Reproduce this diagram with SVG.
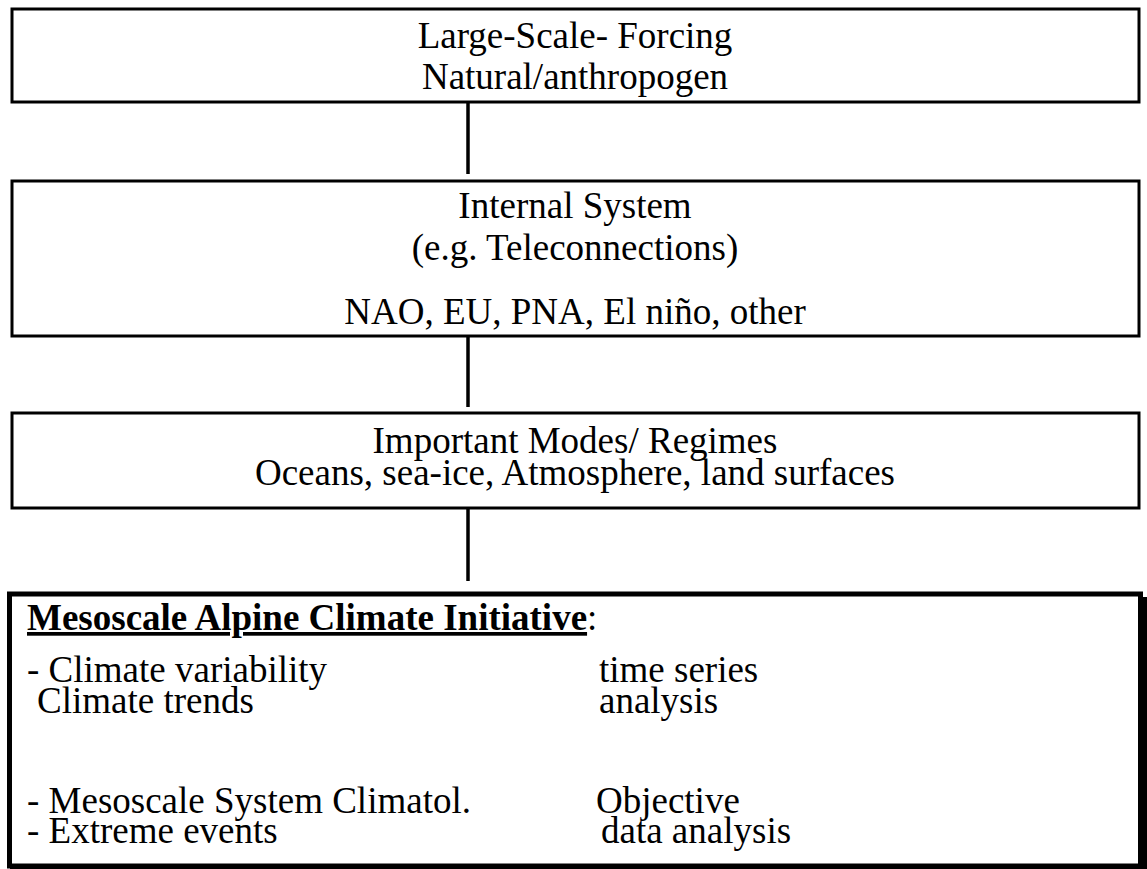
<svg xmlns="http://www.w3.org/2000/svg" width="1147" height="869" viewBox="0 0 1147 869">
<style>
.box{fill:#fff;stroke:#000;stroke-width:3}
.t{font-family:"Liberation Serif","Times New Roman",serif;font-size:37px;fill:#000}
.c{text-anchor:middle}
.b{font-weight:bold;text-decoration:underline}
.conn{stroke:#000;stroke-width:3.5;fill:none}
</style>
<rect width="1147" height="869" fill="#fff"/>
<g id="connectors">
<line class="conn" x1="468" y1="100" x2="468" y2="174"/>
<line class="conn" x1="468" y1="333" x2="468" y2="407"/>
<line class="conn" x1="468" y1="508" x2="468" y2="581"/>
</g>
<g id="forcing">
<rect class="box" x="12" y="9" width="1127" height="93"/>
<text class="t c" x="575" y="48">Large-Scale- Forcing</text>
<text class="t c" x="575" y="89">Natural/anthropogen</text>
</g>
<g id="internal">
<rect class="box" x="12" y="181" width="1127" height="155"/>
<text class="t c" x="575" y="218">Internal System</text>
<text class="t c" x="575" y="260">(e.g. Teleconnections)</text>
<text class="t c" x="575" y="324">NAO, EU, PNA, El niño, other</text>
</g>
<g id="modes">
<rect class="box" x="12" y="413" width="1127" height="95"/>
<text class="t c" x="575" y="453">Important Modes/ Regimes</text>
<text class="t c" x="575" y="485">Oceans, sea-ice, Atmosphere, land surfaces</text>
</g>
<g id="maci">
<rect x="9.5" y="594" width="1131" height="272" fill="#fff" stroke="#000" stroke-width="5"/>
<rect x="1141" y="597" width="6" height="272" fill="#000"/>
<rect x="10" y="864" width="1137" height="5" fill="#000"/>
<text class="t" x="27" y="630"><tspan class="b">Mesoscale Alpine Climate Initiative</tspan>:</text>
<text class="t" x="27" y="682">- Climate variability</text>
<text class="t" x="37" y="713">Climate trends</text>
<text class="t" x="27" y="813">- Mesoscale System Climatol.</text>
<text class="t" x="27" y="843">- Extreme events</text>
<text class="t" x="599" y="682">time series</text>
<text class="t" x="599" y="713">analysis</text>
<text class="t" x="596" y="813">Objective</text>
<text class="t" x="601" y="843">data analysis</text>
</g>
</svg>
